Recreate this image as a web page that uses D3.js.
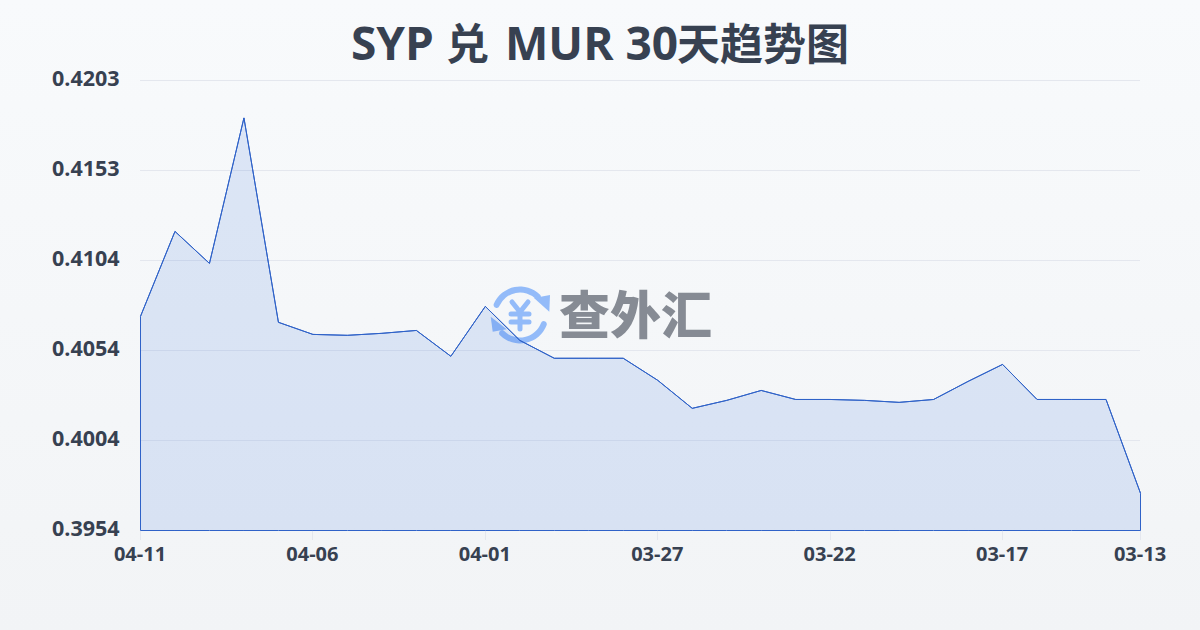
<!DOCTYPE html>
<html><head><meta charset="utf-8">
<script src="https://cdn.jsdelivr.net/npm/d3@7/dist/d3.min.js"></script>
<style>html,body{margin:0;padding:0;width:1200px;height:630px;overflow:hidden}svg{display:block}</style>
</head><body><svg id="c" width="1200" height="630"></svg>
<script>
const titleParts = ["SYP","兑","MUR 30","天趋势图"];
const dates = ["04-11","04-10","04-09","04-08","04-07","04-06","04-05","04-04","04-03","04-02","04-01","03-31","03-30","03-29","03-28","03-27","03-26","03-25","03-24","03-23","03-22","03-21","03-20","03-19","03-18","03-17","03-16","03-15","03-14","03-13"];
const rates = [0.40725,0.41195,0.41018,0.41823,0.40692,0.40625,0.40620,0.40631,0.40647,0.40504,0.40780,0.40592,0.40493,0.40493,0.40493,0.40371,0.40216,0.40260,0.40315,0.40265,0.40265,0.40260,0.40249,0.40265,0.40365,0.40459,0.40265,0.40265,0.40265,0.39746];
const yTicks = [0.3954,0.40038,0.40536,0.41034,0.41532,0.4203];
const yLabels = ["0.3954","0.4004","0.4054","0.4104","0.4153","0.4203"];
const xTickDates = ["04-11","04-06","04-01","03-27","03-22","03-17","03-13"];
const fontCJK = "'Noto Sans CJK SC',sans-serif";
const fontLatin = "'Open Sans','Noto Sans',sans-serif";

const svg = d3.select("#c");
const defs = svg.append("defs");
const bg = defs.append("linearGradient").attr("id","bg").attr("x1",0).attr("y1",0).attr("x2",0).attr("y2",1);
bg.append("stop").attr("offset",0).attr("stop-color","#f8fafc");
bg.append("stop").attr("offset",1).attr("stop-color","#f2f4f6");
svg.append("rect").attr("width",1200).attr("height",630).attr("fill","url(#bg)");

const x = d3.scalePoint().domain(dates).range([140.5,1140.5]);
const y = d3.scaleLinear().domain([0.3954,0.4203]).range([530.5,80.5]);

const g = svg.append("g");
g.selectAll("line.grid").data(yTicks.slice(1)).join("line").attr("class","grid")
 .attr("x1",140).attr("x2",1140).attr("y1",d=>y(d)).attr("y2",d=>y(d))
 .attr("stroke","#e4e7ee").attr("stroke-width",1);

g.selectAll("text.yl").data(yTicks).join("text").attr("class","yl")
 .attr("x",52).attr("y",d=>y(d)+5).text((d,i)=>yLabels[i])
 .attr("font-family",fontLatin).attr("font-weight",700).attr("font-size",21.5).attr("fill","#374151");

g.selectAll("line.xt").data(xTickDates).join("line").attr("class","xt")
 .attr("x1",d=>Math.round(x(d)-0.5)+0.5).attr("x2",d=>Math.round(x(d)-0.5)+0.5).attr("y1",530).attr("y2",540)
 .attr("stroke","#e4e7ee");
g.selectAll("text.xl").data(xTickDates).join("text").attr("class","xl")
 .attr("x",d=>x(d)-0.5).attr("y",561).attr("text-anchor","middle").text(d=>d)
 .attr("font-family",fontLatin).attr("font-weight",700).attr("font-size",20).attr("fill","#374151");

// watermark
const wm = svg.append("g");
const ic = wm.append("g").attr("transform","translate(520,315)");
const arc = d3.arc().innerRadius(22.5).outerRadius(28.5).cornerRadius(3);
ic.append("path").attr("d",arc({startAngle:-1.28,endAngle:0.9})).attr("fill","#93bbf9");
ic.append("path").attr("d",arc({startAngle:1.82,endAngle:4.04})).attr("fill","#93bbf9");
ic.append("path").attr("d","M14,-17 L30,-20 L29.3,-3.3 Z").attr("fill","#93bbf9");
ic.append("path").attr("d","M-29.3,1.7 L-27.3,16.7 L-13.3,14.3 Z").attr("fill","#93bbf9");
ic.append("path").attr("d","M-8,-13 L0,-3 L8,-13 M-9,-1 H9 M-9,7 H9 M0,-3 V14").attr("fill","none").attr("stroke","#93bbf9").attr("stroke-width",5).attr("stroke-linecap","round").attr("stroke-linejoin","round");
wm.append("text").attr("x",559).attr("y",334).text("查外汇")
 .attr("font-family",fontCJK).attr("font-weight",900).attr("font-size",51).attr("fill","#868b94");

const area = d3.area().x((d,i)=>x(dates[i])).y0(530.5).y1(d=>y(d));
const line = d3.line().x((d,i)=>x(dates[i])).y(d=>y(d));
svg.append("path").attr("d",area(rates)).attr("fill","#2563d9").attr("fill-opacity",0.13).attr("stroke","#2f62c8").attr("stroke-width",1);
svg.append("path").attr("d",line(rates)).attr("fill","none").attr("stroke","#2f62c8").attr("stroke-width",1);

const title = svg.append("text").attr("y",60).attr("font-weight",700).attr("fill","#374151");
const titleX = [351,446,505,677];
title.selectAll("tspan").data(titleParts).join("tspan")
 .attr("x",(d,i)=>titleX[i])
 .attr("font-family",(d,i)=>i%2?fontCJK:fontLatin)
 .attr("font-size",(d,i)=>i%2?43:46)
 .text(d=>d);
</script></body></html>
